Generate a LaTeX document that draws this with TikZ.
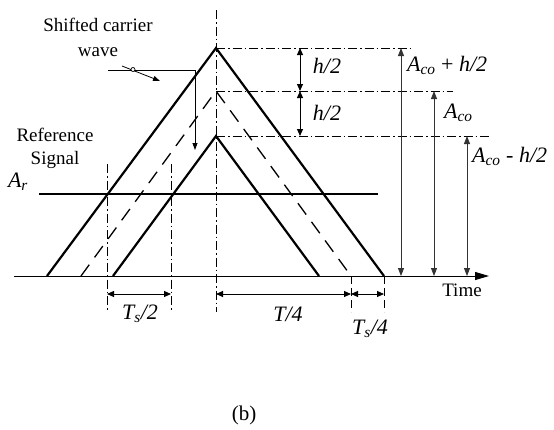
\documentclass[tikz,border=0pt]{standalone}
\usepackage{fontspec}
\setmainfont{Liberation Serif}
\usetikzlibrary{arrows.meta}
\begin{document}
\begin{tikzpicture}[x=1pt,y=-1pt,
  tri/.style={line width=2.2pt},
  dtri/.style={line width=1.3pt, dash pattern=on 14pt off 9pt},
  dd/.style={line width=0.9pt, dash pattern=on 9pt off 3pt on 1.5pt off 3pt},
  tk/.style={line width=0.9pt, dash pattern=on 8pt off 4pt},
  dim/.style={line width=1pt, {Triangle[length=7pt,width=6pt]}-{Triangle[length=7pt,width=6pt]}},
  big/.style={line width=0.8pt, draw=black!80, {Triangle[length=8pt,width=6pt]}-{Triangle[length=8pt,width=6pt]}},
  lbl/.style={font=\fontsize{19}{23}\selectfont, inner sep=0pt, align=center},
  mlbl/.style={font=\fontsize{22}{26}\selectfont, inner sep=0pt},
  ptr/.style={line width=0.8pt, -{Triangle[length=7pt,width=5pt]}}]
\useasboundingbox (0,0) rectangle (554,429);
% key points
\coordinate (O1) at (216,48);  \coordinate (L1) at (47,276);  \coordinate (R1) at (384,276);
\coordinate (O2) at (216,91);  \coordinate (L2) at (81,276);  \coordinate (R2) at (351,276);
\coordinate (O3) at (216,136); \coordinate (L3) at (113,276); \coordinate (R3) at (319,276);
% axis
\coordinate (ax0) at (14,276); \coordinate (ax1) at (489,276);
\draw[line width=1pt, -{Triangle[length=14pt,width=8pt]}] (ax0) -- (ax1);
% triangles
\draw[tri] (L1) -- (O1) -- (R1);
\draw[dtri] (L2) -- (O2) -- (R2);
\draw[tri] (L3) -- (O3) -- (R3);
% reference signal
\coordinate (ar0) at (39,194); \coordinate (ar1) at (378,194);
\draw[tri] (ar0) -- (ar1);
% centre line and verticals
\coordinate (c0) at (216,10); \coordinate (c1) at (216,312);
\draw[dd] (c0) -- (c1);
\coordinate (v1a) at (107,164); \coordinate (v1b) at (107,312);
\coordinate (v2a) at (171,164); \coordinate (v2b) at (171,312);
\draw[dd] (v1a) -- (v1b);
\draw[dd] (v2a) -- (v2b);
\coordinate (t1b) at (351,312); \coordinate (t2b) at (384,312);
\draw[tk] (R2) -- (t1b);
\draw[tk] (R1) -- (t2b);
% horizontal levels
\coordinate (h1) at (413,48); \coordinate (h2) at (453,91); \coordinate (h3) at (490,136);
\draw[dd] (O1) -- (h1);
\draw[dd] (O2) -- (h2);
\draw[dd] (O3) -- (h3);
% h/2 dimensions
\coordinate (ha) at (300,48); \coordinate (hb) at (300,91); \coordinate (hc) at (300,136);
\draw[dim] (ha) -- (hb);
\draw[dim] (hb) -- (hc);
\node[mlbl] (lh1) at (327,66) {\textit{h/2}};
\node[mlbl] (lh2) at (327,113) {\textit{h/2}};
% amplitude arrows
\coordinate (b1t) at (401,48);  \coordinate (b1b) at (401,276);
\coordinate (b2t) at (434,91);  \coordinate (b2b) at (434,276);
\coordinate (b3t) at (467,136); \coordinate (b3b) at (467,276);
\draw[big] (b1t) -- (b1b);
\draw[big] (b2t) -- (b2b);
\draw[big] (b3t) -- (b3b);
\node[mlbl, anchor=west] (la1) at (407,65) {\textit{A\textsubscript{co}} + \textit{h/2}};
\node[mlbl, anchor=west] (la2) at (444,113) {\textit{A\textsubscript{co}}};
\node[mlbl, anchor=west] (la3) at (472,156) {\textit{A\textsubscript{co}} - \textit{h/2}};
% bottom dimensions
\coordinate (d1a) at (107,294); \coordinate (d1b) at (171,294);
\coordinate (d2a) at (216,294); \coordinate (d2b) at (351,294);
\coordinate (d3b) at (384,294);
\draw[dim] (d1a) -- (d1b);
\draw[dim] (d2a) -- (d2b);
\draw[dim] (d2b) -- (d3b);
\node[mlbl] (lts2) at (140,314) {\textit{T\textsubscript{s}/2}};
\node[mlbl] (lt4) at (288,314) {\textit{T/4}};
\node[mlbl] (lts4) at (370,329) {\textit{T\textsubscript{s}/4}};
\node[lbl] (time) at (462,290) {Time};
% texts
\node[lbl, font=\fontsize{19}{25}\selectfont] (scw) at (98,37) {Shifted carrier\\wave};
\node[lbl, font=\fontsize{19}{23}\selectfont] (rs) at (55,148) {Reference\\Signal};
\node[mlbl] (lar) at (18,182) {\textit{A\textsubscript{r}}};
% pointers
\coordinate (p0) at (108,70); \coordinate (p1) at (195,70); \coordinate (p2) at (195,150);
\draw[ptr] (p0) -- (p1) -- (p2);
\coordinate (q0) at (122,66); \coordinate (q1) at (160,81);
\draw[ptr] (q0) -- (q1);
\draw[line width=0.7pt, fill=white] (133,69.5) circle (2pt);
% caption
\node[lbl, font=\fontsize{21}{24}\selectfont] (cap) at (244,415) {(b)};
\end{tikzpicture}
\end{document}
